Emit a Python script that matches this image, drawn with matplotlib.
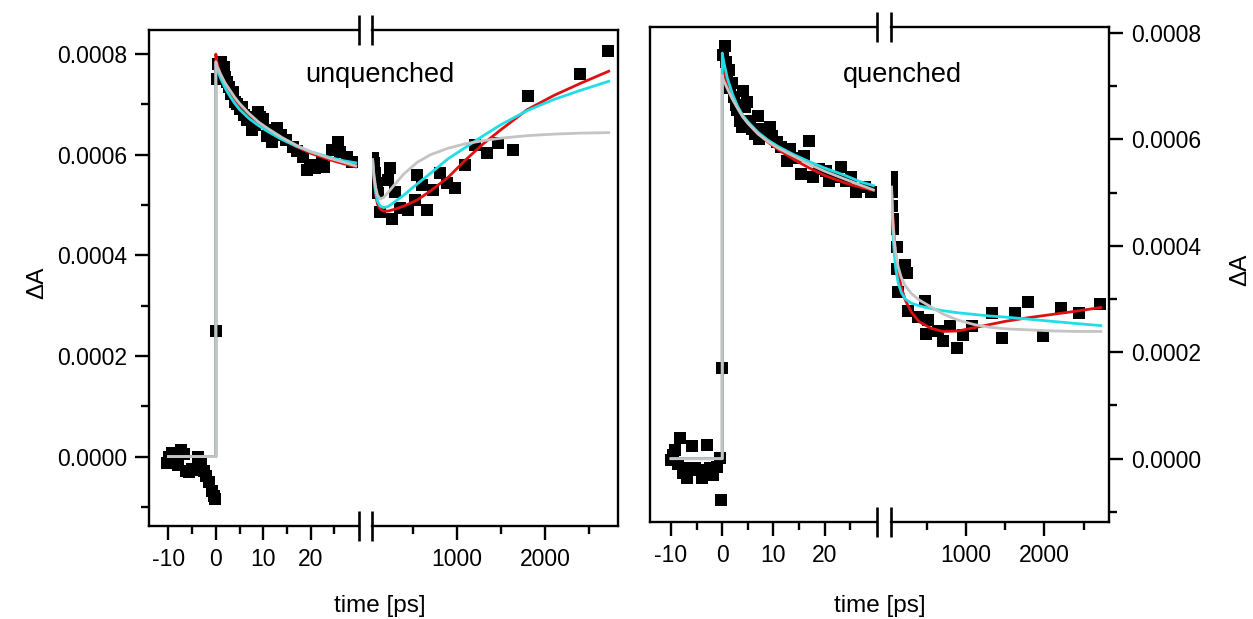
import matplotlib
matplotlib.use('Agg')
import matplotlib.pyplot as plt

plt.rcParams['font.family'] = ['Liberation Sans', 'DejaVu Sans']

# ---------------- data: unquenched ----------------
unq_t = [-10.3, -9.8, -9.2, -8.6, -8.0, -7.4, -6.8, -6.2, -5.6, -5.0, -4.4, -3.8, -3.2, -2.6,
         -2.0, -1.4, -0.9, -0.4, -0.2, 0.05,
         0.3, 0.5, 0.8, 1.1, 1.4, 1.7, 2.0, 2.4, 2.8, 3.2, 3.6, 4.0, 4.5, 5.0, 5.5, 6.0, 6.5,
         7.0, 7.6, 8.2, 8.8, 9.4, 10.0, 10.7, 11.3, 11.8, 12.8, 13.8, 14.9, 16.2, 17.2, 18.3,
         19.2, 19.8, 21.0, 22.3, 22.9, 24.4, 25.7, 26.1, 27.6, 28.8,
         48, 55, 71, 93, 104, 127, 218, 240, 263, 297, 353, 443, 523, 545, 602, 658, 726,
         805, 884, 975, 1088, 1200, 1336, 1460, 1630, 1800, 2400, 2715]
unq_dA = [-1.2e-5, 0.0, 0.8e-5, -0.4e-5, -1.6e-5, 1.4e-5, 0.6e-5, -2.8e-5, -3.0e-5, -2.4e-5,
          -2.6e-5, 0.0, -1.4e-5, -2.8e-5, -3.8e-5, -5.0e-5, -6.8e-5, -7.8e-5, -8.4e-5, 2.5e-4,
          7.5e-4, 7.8e-4, 7.7e-4, 7.85e-4, 7.6e-4, 7.75e-4, 7.55e-4, 7.45e-4, 7.35e-4, 7.2e-4,
          7.25e-4, 7.05e-4, 7.0e-4, 6.9e-4, 6.95e-4, 6.8e-4, 6.7e-4, 6.75e-4, 6.5e-4, 6.6e-4,
          6.85e-4, 6.75e-4, 6.72e-4, 6.38e-4, 6.5e-4, 6.26e-4, 6.54e-4, 6.4e-4, 6.3e-4, 6.16e-4,
          6.08e-4, 5.96e-4, 5.7e-4, 5.8e-4, 5.74e-4, 5.86e-4, 5.76e-4, 6.1e-4, 6.26e-4, 6.06e-4,
          5.96e-4, 5.86e-4,
          5.94e-4, 5.84e-4, 5.64e-4, 5.44e-4, 5.24e-4, 4.86e-4, 5.5e-4, 5.74e-4, 4.72e-4,
          5.26e-4, 4.94e-4, 4.9e-4, 5.1e-4, 5.6e-4, 5.4e-4, 4.9e-4, 5.3e-4, 5.64e-4, 5.44e-4,
          5.34e-4, 5.8e-4, 6.2e-4, 6.04e-4, 6.24e-4, 6.1e-4, 7.16e-4, 7.6e-4, 8.06e-4]

# fit curves, early time window (the t=0 entries repeat to draw the rise)
fit_t_early = [-10, -0.3, 0, 0, 0.3, 1, 2, 3, 4, 5, 7, 9, 11, 14, 17, 20, 24, 27, 29.5]
unq_red_early = [0, 0, 0, 8.0e-4, 7.8e-4, 7.6e-4, 7.4e-4, 7.25e-4, 7.1e-4, 6.98e-4, 6.8e-4,
                 6.64e-4, 6.5e-4, 6.32e-4, 6.16e-4, 6.03e-4, 5.9e-4, 5.82e-4, 5.76e-4]
unq_cyan_early = [0, 0, 0, 7.8e-4, 7.7e-4, 7.52e-4, 7.32e-4, 7.16e-4, 7.02e-4, 6.9e-4, 6.72e-4,
                  6.58e-4, 6.46e-4, 6.3e-4, 6.17e-4, 6.06e-4, 5.95e-4, 5.88e-4, 5.84e-4]
unq_gray_early = [0, 0, 0, 7.85e-4, 7.75e-4, 7.6e-4, 7.42e-4, 7.28e-4, 7.14e-4, 7.02e-4, 6.82e-4,
                  6.65e-4, 6.52e-4, 6.34e-4, 6.19e-4, 6.06e-4, 5.93e-4, 5.85e-4, 5.78e-4]

fit_t_late = [45, 60, 80, 100, 130, 170, 220, 300, 400, 550, 700, 900, 1100, 1300, 1500,
              1800, 2100, 2400, 2720]
unq_red_late = [5.9e-4, 5.5e-4, 5.2e-4, 5.02e-4, 4.92e-4, 4.88e-4, 4.88e-4, 4.92e-4, 4.98e-4,
                5.1e-4, 5.28e-4, 5.55e-4, 5.9e-4, 6.22e-4, 6.5e-4, 6.9e-4, 7.18e-4, 7.42e-4,
                7.66e-4]
unq_cyan_late = [5.9e-4, 5.55e-4, 5.25e-4, 5.08e-4, 4.98e-4, 4.95e-4, 4.97e-4, 5.07e-4, 5.2e-4,
                 5.42e-4, 5.63e-4, 5.92e-4, 6.15e-4, 6.38e-4, 6.6e-4, 6.88e-4, 7.1e-4, 7.28e-4,
                 7.46e-4]
unq_gray_late = [5.9e-4, 5.6e-4, 5.35e-4, 5.2e-4, 5.12e-4, 5.15e-4, 5.25e-4, 5.42e-4, 5.62e-4,
                 5.85e-4, 6.0e-4, 6.13e-4, 6.22e-4, 6.28e-4, 6.33e-4, 6.38e-4, 6.41e-4, 6.43e-4,
                 6.44e-4]

# ---------------- data: quenched ----------------
q_t = [-10.0, -9.6, -9.2, -8.6, -8.2, -7.6, -6.9, -6.3, -5.9, -5.3, -4.6, -3.9, -2.9, -2.4,
       -1.8, -1.0, -0.4, -0.3, 0.0,
       0.2, 0.5, 0.7, 1.0, 1.3, 1.6, 1.9, 2.2, 2.6, 2.9, 3.4, 3.9, 4.1, 4.5, 4.9, 5.4, 5.9,
       6.4, 6.9, 7.1, 7.8, 8.5, 9.4, 9.8, 10.6, 11.4, 12.7, 13.3, 14.2, 15.3, 15.9, 16.9, 17.8,
       18.8, 20.2, 20.8, 22.0, 23.1, 24.2, 25.1, 26.1, 27.8, 29.0,
       45, 48, 52, 56, 60, 65, 110, 115, 218, 244, 128, 250, 385, 474, 513, 480, 641, 705,
       795, 885, 962, 1077, 1333, 1462, 1628, 1795, 1987, 2205, 2436, 2705]
q_dA = [-0.2e-5, 0.6e-5, 1.7e-5, -1.0e-5, 3.9e-5, -2.6e-5, -3.6e-5, -1.7e-5, 2.4e-5, -1.7e-5,
        -2.2e-5, -3.6e-5, 2.6e-5, -1.7e-5, -3.0e-5, -1.5e-5, 0.2e-5, -7.7e-5, 1.7e-4,
        7.59e-4, 7.75e-4, 7.46e-4, 7.12e-4, 7.3e-4, 6.97e-4, 7.05e-4, 6.8e-4, 6.65e-4, 6.56e-4,
        6.35e-4, 6.24e-4, 6.9e-4, 6.6e-4, 6.71e-4, 6.35e-4, 6.19e-4, 6.1e-4, 6.43e-4, 6.0e-4,
        6.2e-4, 6.15e-4, 6.24e-4, 6.06e-4, 5.95e-4, 5.85e-4, 5.59e-4, 5.81e-4, 5.65e-4, 5.35e-4,
        5.68e-4, 5.96e-4, 5.29e-4, 5.45e-4, 5.4e-4, 5.21e-4, 5.3e-4, 5.48e-4, 5.22e-4, 5.29e-4,
        5.01e-4, 5.1e-4, 5.01e-4,
        5.29e-4, 5.2e-4, 5.01e-4, 4.75e-4, 4.5e-4, 4.32e-4, 3.98e-4, 3.57e-4, 3.63e-4, 3.48e-4,
        3.14e-4, 2.78e-4, 2.67e-4, 2.97e-4, 2.6e-4, 2.35e-4, 2.39e-4, 2.22e-4, 2.49e-4,
        2.07e-4, 2.32e-4, 2.49e-4, 2.73e-4, 2.26e-4, 2.73e-4, 2.95e-4, 2.3e-4, 2.84e-4,
        2.73e-4, 2.9e-4]

q_red_early = [0, 0, 0, 7.45e-4, 7.3e-4, 7.05e-4, 6.8e-4, 6.6e-4, 6.44e-4, 6.3e-4, 6.1e-4,
               5.94e-4, 5.8e-4, 5.62e-4, 5.46e-4, 5.32e-4, 5.18e-4, 5.1e-4, 5.04e-4]
q_cyan_early = [0, 0, 0, 7.62e-4, 7.45e-4, 7.15e-4, 6.85e-4, 6.62e-4, 6.45e-4, 6.33e-4, 6.13e-4,
                5.98e-4, 5.86e-4, 5.71e-4, 5.58e-4, 5.46e-4, 5.32e-4, 5.2e-4, 5.13e-4]
q_gray_early = [0, 0, 0, 7.2e-4, 7.1e-4, 6.95e-4, 6.75e-4, 6.58e-4, 6.42e-4, 6.3e-4, 6.1e-4,
                5.95e-4, 5.83e-4, 5.68e-4, 5.53e-4, 5.4e-4, 5.25e-4, 5.14e-4, 5.05e-4]

q_red_late = [5.1e-4, 4.6e-4, 4.15e-4, 3.8e-4, 3.5e-4, 3.22e-4, 2.98e-4, 2.75e-4, 2.57e-4,
              2.45e-4, 2.39e-4, 2.4e-4, 2.46e-4, 2.52e-4, 2.58e-4, 2.65e-4, 2.71e-4, 2.77e-4,
              2.84e-4]
q_cyan_late = [5.1e-4, 4.3e-4, 3.85e-4, 3.55e-4, 3.3e-4, 3.12e-4, 3.0e-4, 2.92e-4, 2.87e-4,
               2.82e-4, 2.78e-4, 2.74e-4, 2.71e-4, 2.68e-4, 2.66e-4, 2.62e-4, 2.58e-4, 2.54e-4,
               2.5e-4]
q_gray_late = [5.1e-4, 4.5e-4, 4.1e-4, 3.85e-4, 3.6e-4, 3.4e-4, 3.25e-4, 3.1e-4, 2.98e-4,
               2.85e-4, 2.72e-4, 2.6e-4, 2.52e-4, 2.47e-4, 2.44e-4, 2.42e-4, 2.4e-4, 2.39e-4,
               2.39e-4]

y_major = [0.0, 0.0002, 0.0004, 0.0006, 0.0008]
y_minor = [-0.0001, 0.0001, 0.0003, 0.0005, 0.0007]
early_major = [-10, 0, 10, 20]
early_labels = ['-10', '0', '10', '20']
early_minor = [-5, 5, 15, 25]
late_major = [1000, 2000]
late_labels = ['1000', '2000']
late_minor = [500, 1500, 2500]

RED = '#dd1111'
CYAN = '#22dde6'
GRAY = '#c4c4c4'
W, H = 1253, 619
FS = 16.5
T_SPLIT = 35  # data before this go in the left (ps) segment


def px_axes(fig, x0, x1, y0, y1):
    return fig.add_axes([x0 / W, 1 - y1 / H, (x1 - x0) / W, (y1 - y0) / H])


def style(ax, side):
    for s in ax.spines.values():
        s.set_linewidth(1.7)
    ax.tick_params(which='major', direction='out', length=10, width=1.7, labelsize=FS, pad=6)
    ax.tick_params(which='minor', direction='out', length=6, width=1.7)
    if side == 'early':
        ax.spines['right'].set_visible(False)
    else:
        ax.spines['left'].set_visible(False)


def break_bars(ax, x, hpx):
    d = 15 / hpx
    for y in (0, 1):
        ax.plot([x, x], [y - d, y + d], transform=ax.transAxes, color='k', lw=1.9,
                clip_on=False, solid_capstyle='butt')


def panel(fig, xs, ys, ylim, t, dA, early, late, ylabel_side):
    x0, xb1, xb2, x1 = xs
    y0, y1 = ys
    ax_e = px_axes(fig, x0, xb1, y0, y1)
    ax_l = px_axes(fig, xb2, x1, y0, y1)
    t_e = [a for a in t if a < T_SPLIT]
    d_e = [b for a, b in zip(t, dA) if a < T_SPLIT]
    t_l = [a for a in t if a >= T_SPLIT]
    d_l = [b for a, b in zip(t, dA) if a >= T_SPLIT]
    for ax, side, tt, dd, ft, fits in ((ax_e, 'early', t_e, d_e, fit_t_early, early),
                                       (ax_l, 'late', t_l, d_l, fit_t_late, late)):
        style(ax, side)
        ax.plot(tt, dd, 's', color='k', ms=8.3, mew=0, zorder=2)
        for vals, c in zip(fits, (RED, CYAN, GRAY)):
            ax.plot(ft, vals, color=c, lw=2.0, zorder=3)
        ax.set_ylim(*ylim)
        ax.set_yticks(y_major)
        ax.set_yticks(y_minor, minor=True)
        ax.yaxis.set_major_formatter(matplotlib.ticker.FormatStrFormatter('%.4f'))
    ax_e.set_xlim(-14.1, 30.2)
    ax_e.set_xticks(early_major, labels=early_labels)
    ax_e.set_xticks(early_minor, minor=True)
    ax_l.set_xlim(38, 2825)
    ax_l.set_xticks(late_major, labels=late_labels)
    ax_l.set_xticks(late_minor, minor=True)
    if ylabel_side == 'left':
        ax_l.tick_params(axis='y', which='both', left=False, right=False, labelleft=False)
    else:
        ax_e.tick_params(axis='y', which='both', left=False, right=False, labelleft=False)
        ax_l.yaxis.tick_right()
        ax_l.tick_params(axis='y', which='both', left=False, right=True, labelleft=False,
                         labelright=True)
    break_bars(ax_e, 1, y1 - y0)
    break_bars(ax_l, 0, y1 - y0)
    return ax_e, ax_l


fig = plt.figure(figsize=(W / 100, H / 100), dpi=100)

panel(fig, (149, 359, 372, 618), (30, 526), (-0.000138, 0.000848), unq_t, unq_dA,
      (unq_red_early, unq_cyan_early, unq_gray_early),
      (unq_red_late, unq_cyan_late, unq_gray_late), 'left')
panel(fig, (650, 877, 891, 1109), (27, 522), (-0.000119, 0.000811), q_t, q_dA,
      (q_red_early, q_cyan_early, q_gray_early),
      (q_red_late, q_cyan_late, q_gray_late), 'right')

fig.text(380 / W, 1 - 75 / H, 'unquenched', ha='center', va='center', fontsize=19.5)
fig.text(902 / W, 1 - 75 / H, 'quenched', ha='center', va='center', fontsize=19.5)
fig.text(380 / W, 1 - 606 / H, 'time [ps]', ha='center', va='center', fontsize=17.5)
fig.text(880 / W, 1 - 606 / H, 'time [ps]', ha='center', va='center', fontsize=17.5)
fig.text(37 / W, 1 - 283 / H, '\u0394A', ha='center', va='center', rotation=90, fontsize=17.5)
fig.text(1240 / W, 1 - 270 / H, '\u0394A', ha='center', va='center', rotation=90, fontsize=17.5)

fig.savefig('out.png', dpi=100)
